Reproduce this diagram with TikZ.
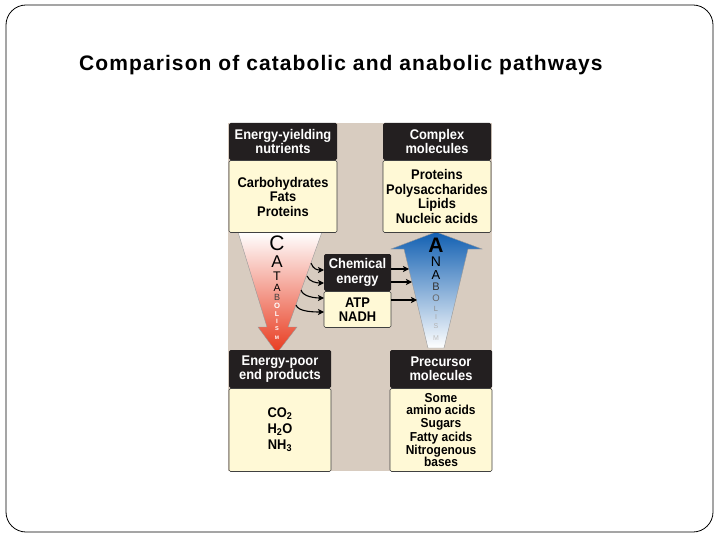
\documentclass[tikz,border=0pt]{standalone}
\usepackage{fontspec}
\setmainfont{Liberation Sans}
\newfontfamily\titlefont[LetterSpace=5.2]{Liberation Sans}
\newfontfamily\condfont[FakeStretch=0.92]{Liberation Sans}
\usepackage{tikz}
\usetikzlibrary{shapes.geometric, arrows.meta, positioning}
\definecolor{bgtan}{RGB}{216,204,192}
\definecolor{cream}{RGB}{255,249,214}
\definecolor{headfill}{RGB}{35,31,32}
\definecolor{catred}{RGB}{232,58,30}
\definecolor{anablue}{RGB}{18,96,178}
\tikzstyle{head} = [rectangle, fill=headfill, text=white, text centered, align=center,
     rounded corners=1.5pt, inner sep=0pt, font=\condfont\fontsize{14}{14.5}\selectfont\bfseries]
\tikzstyle{body} = [rectangle, draw=black!75, line width=0.6pt, fill=cream, text centered,
     align=center, rounded corners=1.5pt, inner sep=0pt, font=\condfont\fontsize{14}{14.5}\selectfont\bfseries]
\tikzstyle{letter} = [inner sep=0pt]
\tikzstyle{arrow} = [line width=1.1pt,-{Stealth[length=6pt,width=6pt,inset=1.5pt]}]

\begin{document}
\begin{tikzpicture}[x=1pt, y=-1pt]
     \useasboundingbox (0,0) rectangle (720,540);
     % Frame and title
     \draw [line width=0.8pt, rounded corners=20pt] (6,5) rectangle (713,532);
     \node [anchor=base west, inner sep=0pt, font=\titlefont\fontsize{21}{24}\selectfont\bfseries] (title) at (79,71) {Comparison of catabolic and anabolic pathways};
     \fill [bgtan] (228,123) rectangle (492,471);

     % Big arrows
     \draw [black!40, line width=0.4pt, top color=white, bottom color=catred]
          (238,232) -- (322,232) -- (288,327) -- (297,327) -- (277,353) -- (258,327) -- (267,327) -- cycle;
     \draw [black!40, line width=0.4pt, top color=anablue, bottom color=white]
          (436,232) -- (482,249) -- (468,249) -- (444,348) -- (428,348) -- (404,249) -- (391,249) -- cycle;

     % Nodes
     \node [head, minimum width=108pt, minimum height=37pt] (nutr) at (283,141.5) {Energy-yielding\\nutrients};
     \node [body, minimum width=108pt, minimum height=72pt, below=0pt of nutr] (nutrlist) {Carbohydrates\\Fats\\Proteins};
     \node [head, minimum width=108pt, minimum height=37pt] (cplx) at (437,141.5) {Complex\\molecules};
     \node [body, minimum width=108pt, minimum height=72pt, below=0pt of cplx] (cplxlist) {Proteins\\Polysaccharides\\Lipids\\Nucleic acids};
     \node [head, minimum width=67pt, minimum height=37pt] (chem) at (357.5,272.5) {Chemical\\energy};
     \node [body, minimum width=67pt, minimum height=36pt, below=0pt of chem] (chemlist) {ATP\\NADH};
     \node [head, minimum width=102pt, minimum height=38pt] (poor) at (280,369) {Energy-poor\\end products};
     \node [body, minimum width=102pt, minimum height=83pt, below=0pt of poor, font=\condfont\fontsize{14}{16}\selectfont\bfseries] (poorlist) {CO\textsubscript{2}\\H\textsubscript{2}O\\NH\textsubscript{3}};
     \node [head, minimum width=102pt, minimum height=38pt] (prec) at (441,369) {Precursor\\molecules};
     \node [body, minimum width=102pt, minimum height=83pt, below=0pt of prec, font=\condfont\fontsize{13}{13.5}\selectfont\bfseries] (preclist) {Some\\[-1.5pt]amino acids\\Sugars\\Fatty acids\\Nitrogenous\\[-1.5pt]bases};

     % Letters
     \node [letter, font=\fontsize{21}{21}\selectfont] (cat1) at (277,243) {C};
     \node [letter, font=\fontsize{17}{17}\selectfont] (cat2) at (277,262) {A};
     \node [letter, font=\fontsize{12.5}{13}\selectfont] (cat3) at (277,276) {T};
     \node [letter, font=\fontsize{10.5}{11}\selectfont] (cat4) at (277,288) {A};
     \node [letter, font=\fontsize{9}{9}\selectfont, black!75] (cat5) at (277,297) {B};
     \node [letter, font=\fontsize{7.7}{8}\selectfont\bfseries, white] (cat6) at (277,306) {O};
     \node [letter, font=\fontsize{7}{7}\selectfont\bfseries, white] (cat7) at (277,314) {L};
     \node [letter, font=\fontsize{6.3}{7}\selectfont\bfseries, white] (cat8) at (277,321) {I};
     \node [letter, font=\fontsize{5.6}{6}\selectfont\bfseries, white] (cat9) at (277,329) {S};
     \node [letter, font=\fontsize{5}{5}\selectfont\bfseries, white] (cat10) at (277,338) {M};
     \node [letter, font=\fontsize{21}{21}\selectfont\bfseries] (ana1) at (436,245) {A};
     \node [letter, font=\fontsize{14}{14}\selectfont] (ana2) at (436,262) {N};
     \node [letter, font=\fontsize{13}{13}\selectfont] (ana3) at (436,275) {A};
     \node [letter, font=\fontsize{11}{11}\selectfont, black!80] (ana4) at (436,287) {B};
     \node [letter, font=\fontsize{9.5}{10}\selectfont, black!60] (ana5) at (436,298) {O};
     \node [letter, font=\fontsize{7.5}{8}\selectfont, black!45] (ana6) at (436,309) {L};
     \node [letter, font=\fontsize{7}{7}\selectfont, black!35] (ana7) at (436,317) {I};
     \node [letter, font=\fontsize{7}{7}\selectfont, black!30] (ana8) at (436,326) {S};
     \node [letter, font=\fontsize{7}{7}\selectfont, black!25] (ana9) at (436,338) {M};

     % Arrow ends
     \coordinate (c1) at (311,263);  \coordinate (e1) at (324,270);
     \coordinate (c2) at (307,276);  \coordinate (e2) at (324,283);
     \coordinate (c3) at (301,290);  \coordinate (e3) at (324,298);
     \coordinate (c4) at (296,305);  \coordinate (e4) at (324,312);
     \coordinate (a1) at (409,269);
     \coordinate (a2) at (412,282);
     \coordinate (a3) at (417,300);

     % Arrows
     \draw [arrow] (c1) .. controls +(2,6) and +(-7,0) .. (e1);
     \draw [arrow] (c2) .. controls +(2,6) and +(-7,0) .. (e2);
     \draw [arrow] (c3) .. controls +(2,7) and +(-8,0) .. (e3);
     \draw [arrow] (c4) .. controls +(2,7) and +(-9,0) .. (e4);
     \draw [arrow] (chem.east |- a1) -- (a1);
     \draw [arrow] (chem.east |- a2) -- (a2);
     \draw [arrow] (chemlist.east |- a3) -- (a3);
\end{tikzpicture}
\end{document}
